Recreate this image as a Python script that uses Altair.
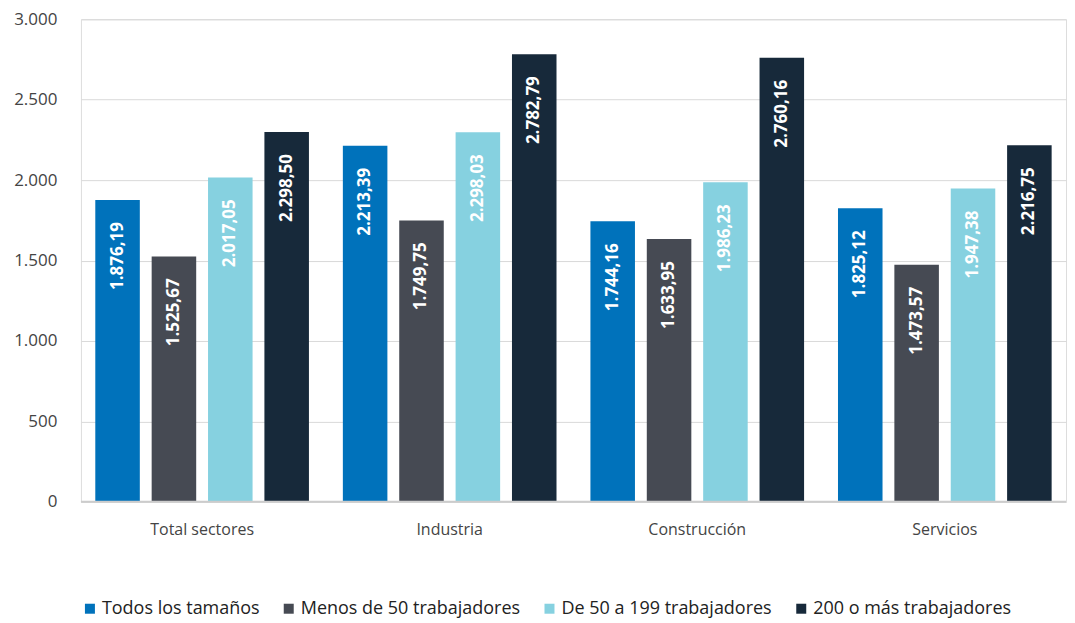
import altair as alt
import pandas as pd

sectors = ["Total sectores", "Industria", "Construcción", "Servicios"]
series = ["Todos los tamaños", "Menos de 50 trabajadores", "De 50 a 199 trabajadores", "200 o más trabajadores"]
colors = ["#0072BB", "#464A53", "#86D1E0", "#17293A"]

todos = [1876.19, 2213.39, 1744.16, 1825.12]
menos50 = [1525.67, 1749.75, 1633.95, 1473.57]
de50a199 = [2017.05, 2298.03, 1986.23, 1947.38]
mas200 = [2298.50, 2782.79, 2760.16, 2216.75]


def fmt(v):
    s = f"{v:,.2f}"
    return s.replace(",", "X").replace(".", ",").replace("X", ".")


rows = []
for serie, vals in zip(series, [todos, menos50, de50a199, mas200]):
    for sec, v in zip(sectors, vals):
        rows.append({"sector": sec, "serie": serie, "valor": v, "etiqueta": fmt(v)})
df = pd.DataFrame(rows)

FONT = "Open Sans"

base = alt.Chart(df).encode(
    x=alt.X(
        "sector:N",
        sort=sectors,
        title=None,
        scale=alt.Scale(paddingInner=0.137, paddingOuter=0.058),
        axis=alt.Axis(labelAngle=0, labelFontSize=16, labelColor="#444444", labelFont=FONT,
                      labelPadding=20, ticks=False, domain=False),
    ),
    xOffset=alt.XOffset("serie:N", sort=series, scale=alt.Scale(paddingInner=0.21)),
)

bars = base.mark_bar().encode(
    y=alt.Y(
        "valor:Q",
        title=None,
        scale=alt.Scale(domain=[0, 3000]),
        axis=alt.Axis(values=[0, 500, 1000, 1500, 2000, 2500, 3000], format=",d",
                      labelExpr="replace(datum.label, ',', '.')",
                      labelFontSize=17, labelColor="#444444", labelFont=FONT,
                      labelPadding=24, ticks=False, domain=False,
                      gridColor="#d9d9d9", gridWidth=1),
    ),
    color=alt.Color(
        "serie:N",
        sort=series,
        scale=alt.Scale(domain=series, range=colors),
        legend=alt.Legend(title=None, orient="bottom", direction="horizontal",
                          symbolType="square", symbolSize=100, symbolStrokeWidth=0,
                          labelFontSize=18, labelColor="#222222", labelFont=FONT,
                          columnPadding=20, symbolOffset=0, offset=62, labelOffset=3,
                          labelLimit=400),
    ),
)

labels = base.mark_text(
    angle=270, align="right", baseline="middle", dx=-22,
    color="white", fontWeight="bold", fontSize=17, font=FONT,
).encode(
    y=alt.Y("valor:Q"),
    text="etiqueta:N",
)

zero = alt.Chart(pd.DataFrame({"y": [0]})).mark_rule(color="#cccccc", strokeWidth=2).encode(
    y=alt.Y("y:Q")
)

chart = alt.layer(bars, labels, zero).properties(
    width=986, height=483,
    padding={"top": 2, "left": 5, "right": 0, "bottom": 5},
).configure_view(stroke=None).configure(font=FONT)

chart.save("out.html", embed_options={"renderer": "svg", "actions": False})
